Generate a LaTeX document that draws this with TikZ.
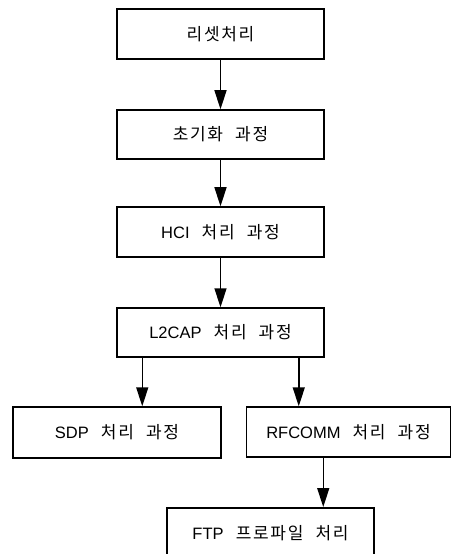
\documentclass[tikz,border=0pt]{standalone}
\usepackage{fontspec}
\setmainfont{Noto Sans CJK KR}[LetterSpace=10,WordSpace=2.2]
\newfontfamily\latin{Liberation Sans}
\usetikzlibrary{arrows.meta,calc}

\newcommand{\lat}[1]{{\latin\fontsize{16.5bp}{19bp}\selectfont #1}}

\tikzset{
  procbox/.style={draw, line width=1.5bp, minimum width=207bp, minimum height=50bp,
    inner sep=0pt, font=\fontsize{17bp}{20bp}\selectfont},
  flow/.style={line width=1.5bp, -{Triangle[length=19bp,width=12bp]}}
}

\begin{document}
\begin{tikzpicture}[x=1bp,y=-1bp]
  \useasboundingbox (0,0) rectangle (452,554);

  % main chain
  \node[procbox] (reset)  at (220.5,34)    {리셋처리};
  \node[procbox, minimum height=49bp] (init) at (220.5,134.5) {초기화 과정};
  \node[procbox] (hci)    at (220.5,232)   {\lat{HCI} 처리 과정};
  \node[procbox, minimum height=49bp] (l2cap) at (220.5,332.5) {\lat{L2CAP} 처리 과정};

  % branches
  \node[procbox, minimum width=208bp, minimum height=51bp] (sdp) at (117,432.5) {\lat{SDP} 처리 과정};
  \node[procbox, minimum width=204bp] (rfcomm) at (348.5,432) {\lat{RFCOMM} 처리 과정};
  % last box runs past the lower page edge
  \node[procbox, minimum height=54bp, anchor=north] (ftp) at (270.5,507)
    {\raisebox{4bp}{\lat{FTP} 프로파일 처리}};

  % connectors
  \draw[flow] (reset) -- (init);
  \draw[flow] (init) -- (hci);
  \draw[flow] (hci) -- (l2cap);

  \coordinate (l2l) at ($(l2cap.south west)+(26,0)$);
  \coordinate (l2r) at ($(l2cap.south east)+(-26,0)$);
  \coordinate (rfo) at ($(rfcomm.south west)+(77.5,0)$);
  \draw[flow] (l2l) -- (l2l |- sdp.north);
  \draw[flow] (l2r) -- (l2r |- rfcomm.north);
  \draw[flow] (rfo) -- (rfo |- ftp.north);
\end{tikzpicture}
\end{document}
